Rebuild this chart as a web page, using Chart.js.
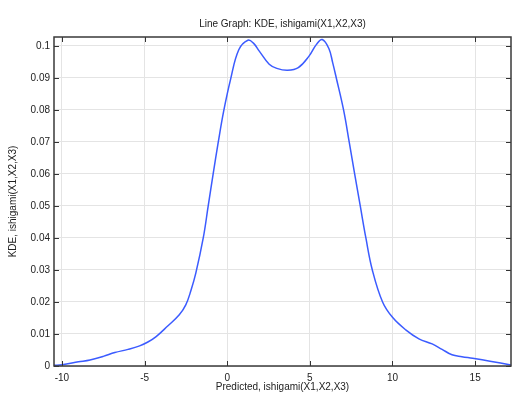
<!DOCTYPE html>
<html>
<head>
<meta charset="utf-8">
<script src="https://cdn.jsdelivr.net/npm/chart.js@4.4.1/dist/chart.umd.min.js"></script>
<style>
  html, body { margin: 0; padding: 0; background: #ffffff; }
  #wrap { width: 520px; height: 396px; }
</style>
</head>
<body>
<div id="wrap"><canvas id="c" width="520" height="396"></canvas></div>
<script>
const chartTitle = "Line Graph: KDE, ishigami(X1,X2,X3)";
const xAxisTitle = "Predicted, ishigami(X1,X2,X3)";
const yAxisTitle = "KDE, ishigami(X1,X2,X3)";

const predicted = [-10.48, -10, -9, -8.3, -7.5, -6.8, -6, -5.3, -4.8, -4.3, -3.6, -2.9, -2.5, -2.2,
  -1.9, -1.45, -1.15, -0.85, -0.54, -0.22, 0.2, 0.7, 1.25, 1.6, 1.94, 2.54, 3.0, 3.65, 4.3,
  4.96, 5.4, 5.75, 6.15, 6.38, 6.6, 7.04, 7.38, 7.71, 8.05, 8.39, 8.78, 9.4, 10.0, 10.8, 11.6, 12.4, 13.0,
  13.6, 14.2, 14.85, 15.9, 17.17];
const kde = [0.0002, 0.0004, 0.0013, 0.0019, 0.003, 0.0042, 0.0052, 0.0063, 0.0075, 0.0092, 0.0125, 0.016, 0.0192, 0.0235,
  0.029, 0.040, 0.050, 0.060, 0.070, 0.0795, 0.0895, 0.0988, 0.1018, 0.1008, 0.0984, 0.0943, 0.0930, 0.0924, 0.0932,
  0.0969, 0.1005, 0.1020, 0.0992, 0.0948, 0.090, 0.080, 0.070, 0.060, 0.050, 0.040, 0.030, 0.020, 0.0152, 0.0113, 0.0085, 0.0069, 0.0052,
  0.0035, 0.0029, 0.0024, 0.0015, 0.0003];

const xTicks = [-10, -5, 0, 5, 10, 15];
const yTicks = [0, 0.01, 0.02, 0.03, 0.04, 0.05, 0.06, 0.07, 0.08, 0.09, 0.1];
const yTickLabels = ["0", "0.01", "0.02", "0.03", "0.04", "0.05", "0.06", "0.07", "0.08", "0.09", "0.1"];
const xRange = [-10.48, 17.17];
const yRange = [0, 0.1028];

const FONT = "'Liberation Sans', Arial, sans-serif";

const framePlugin = {
  id: 'frame',
  afterLayout(chart) {
    const a = chart.chartArea;
    if (chart.titleBlock) {
      chart.titleBlock.left = a.left;
      chart.titleBlock.right = a.right;
    }
  },
  afterDraw(chart) {
    const ctx = chart.ctx;
    const a = chart.chartArea;
    const xs = chart.scales.x, ys = chart.scales.y;
    const L = 5;
    ctx.save();
    ctx.strokeStyle = '#333333';
    ctx.lineWidth = 1;
    ctx.beginPath();
    xs.ticks.forEach(t => {
      const px = Math.round(xs.getPixelForValue(t.value)) + 0.5;
      ctx.moveTo(px, a.bottom); ctx.lineTo(px, a.bottom - L);
      ctx.moveTo(px, a.top); ctx.lineTo(px, a.top + L);
    });
    ys.ticks.forEach(t => {
      const py = Math.round(ys.getPixelForValue(t.value)) + 0.5;
      ctx.moveTo(a.left, py); ctx.lineTo(a.left + L, py);
      ctx.moveTo(a.right, py); ctx.lineTo(a.right - L, py);
    });
    ctx.stroke();
    ctx.lineWidth = 1.5;
    ctx.strokeStyle = '#3a3a3a';
    ctx.strokeRect(a.left, a.top, a.right - a.left, a.bottom - a.top);
    ctx.restore();
  }
};

new Chart(document.getElementById('c'), {
  type: 'line',
  data: {
    datasets: [{
      data: predicted.map((x, i) => ({ x: x, y: kde[i] })),
      borderColor: '#3b5bff',
      borderWidth: 1.5,
      pointRadius: 0,
      fill: false,
      tension: 0.4
    }]
  },
  options: {
    responsive: false,
    animation: false,
    devicePixelRatio: 1,
    layout: { padding: { left: 0, right: 9, top: 0, bottom: 0 } },
    plugins: {
      legend: { display: false },
      tooltip: { enabled: false },
      title: {
        display: true,
        text: chartTitle,
        color: '#222222',
        font: { family: FONT, size: 10, weight: 'normal', lineHeight: 1.2 },
        padding: { top: 18, bottom: 7 }
      }
    },
    scales: {
      x: {
        type: 'linear',
        min: xRange[0],
        max: xRange[1],
        afterBuildTicks: s => { s.ticks = xTicks.map(v => ({ value: v })); },
        afterFit: s => { s.height = 30; },
        grid: { color: '#e4e4e4', lineWidth: 1, drawTicks: false },
        border: { display: false },
        ticks: {
          color: '#222222',
          font: { family: FONT, size: 10 },
          padding: 6,
          maxRotation: 0,
          callback: v => String(v)
        },
        title: {
          display: true,
          text: xAxisTitle,
          color: '#222222',
          font: { family: FONT, size: 10, lineHeight: 1.2 },
          padding: { top: 0, bottom: 3 }
        }
      },
      y: {
        type: 'linear',
        min: yRange[0],
        max: yRange[1],
        afterBuildTicks: s => { s.ticks = yTicks.map(v => ({ value: v })); },
        afterFit: s => { s.width = 54; },
        grid: { color: '#e4e4e4', lineWidth: 1, drawTicks: false },
        border: { display: false },
        ticks: {
          color: '#222222',
          font: { family: FONT, size: 10 },
          padding: 4,
          callback: (v, i) => yTickLabels[yTicks.indexOf(v)] ?? String(v)
        },
        title: {
          display: true,
          text: yAxisTitle,
          color: '#222222',
          font: { family: FONT, size: 10, lineHeight: 1.2 },
          padding: { top: 7, bottom: 0 }
        }
      }
    }
  },
  plugins: [framePlugin]
});
</script>
</body>
</html>
